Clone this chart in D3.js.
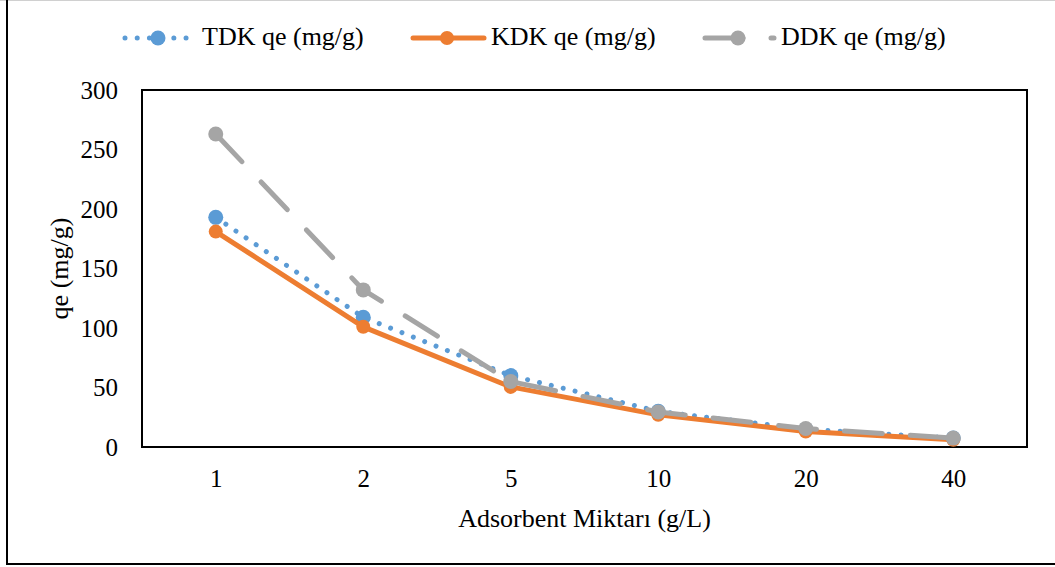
<!DOCTYPE html>
<html>
<head>
<meta charset="utf-8">
<script src="https://cdn.jsdelivr.net/npm/d3@7"></script>
<style>
  html, body { margin: 0; padding: 0; background: #fff; }
</style>
</head>
<body>
<svg id="chart" width="1055" height="567"></svg>
<script>
// Adsorbent dose categories (g/L)
const categories = ["1", "2", "5", "10", "20", "40"];
// qe values (mg/g) per adsorbent
const tdkValues = [193, 109, 60, 30, 15, 7.5];
const kdkValues = [181, 101, 50.5, 27, 13, 6];
const ddkValues = [263, 132, 55, 29.5, 15.5, 7.5];
const seriesNames = ["TDK qe (mg/g)", "KDK qe (mg/g)", "DDK qe (mg/g)"];
const yTicks = [0, 50, 100, 150, 200, 250, 300];

const FONT = "'Liberation Serif', 'Times New Roman', serif";
const svg = d3.select("#chart");
const W = 1055;
const plot = { left: 142, right: 1027, top: 90, bottom: 447 };

// outer chart frame
svg.append("line").attr("x1", 0).attr("x2", W).attr("y1", 0.5).attr("y2", 0.5)
  .attr("stroke", "#d0d0d0").attr("stroke-width", 1);
svg.append("line").attr("x1", 7).attr("x2", 7).attr("y1", 0).attr("y2", 565)
  .attr("stroke", "#000").attr("stroke-width", 2);
svg.append("line").attr("x1", 6).attr("x2", W).attr("y1", 564).attr("y2", 564)
  .attr("stroke", "#000").attr("stroke-width", 2);

const x = d3.scalePoint().domain(categories).range([plot.left, plot.right]).padding(0.5);
const y = d3.scaleLinear().domain([0, 300]).range([plot.bottom, plot.top]);

// plot area border
svg.append("rect")
  .attr("x", plot.left).attr("y", plot.top)
  .attr("width", plot.right - plot.left).attr("height", plot.bottom - plot.top)
  .attr("fill", "none").attr("stroke", "#000").attr("stroke-width", 2);

// y axis labels
const yAxis = d3.axisLeft(y).tickValues(yTicks).tickSize(0).tickPadding(24);
const gy = svg.append("g").attr("transform", `translate(${plot.left},0)`).call(yAxis);
gy.select(".domain").remove();
gy.selectAll("text").attr("font-size", 25).style("font-family", FONT).attr("fill", "#000");

// x axis labels
const xAxis = d3.axisBottom(x).tickSize(0).tickPadding(22);
const gx = svg.append("g").attr("transform", `translate(0,${plot.bottom})`).call(xAxis);
gx.select(".domain").remove();
gx.selectAll("text").attr("font-size", 25).style("font-family", FONT).attr("fill", "#000");

// axis titles
svg.append("text").attr("x", (plot.left + plot.right) / 2).attr("y", 527)
  .attr("text-anchor", "middle").attr("font-size", 26).style("font-family", FONT)
  .text("Adsorbent Miktarı (g/L)");
svg.append("text").attr("transform", `translate(68,${(plot.top + plot.bottom) / 2}) rotate(-90)`)
  .attr("text-anchor", "middle").attr("font-size", 26).style("font-family", FONT)
  .text("qe (mg/g)");

const series = [
  { name: seriesNames[0], values: tdkValues, color: "#5B9BD5", dash: "0.01 12.2", r: 7.5 },
  { name: seriesNames[1], values: kdkValues, color: "#ED7D31", dash: null, r: 7 },
  { name: seriesNames[2], values: ddkValues, color: "#A5A5A5", dash: "38 28", r: 7.5 }
];

const line = d3.line().x((d, i) => x(categories[i])).y(d => y(d));

series.forEach(s => {
  const g = svg.append("g");
  g.append("path").datum(s.values)
    .attr("d", line)
    .attr("fill", "none")
    .attr("stroke", s.color)
    .attr("stroke-width", 5)
    .attr("stroke-linecap", "round")
    .attr("stroke-linejoin", "round")
    .attr("stroke-dasharray", s.dash);
  g.selectAll("circle").data(s.values).join("circle")
    .attr("cx", (d, i) => x(categories[i]))
    .attr("cy", d => y(d))
    .attr("r", s.r)
    .attr("fill", s.color);
});

// legend
const legendItems = [
  { x1: 125, x2: 189, mx: 158, tx: 202 },
  { x1: 413, x2: 484, mx: 447, tx: 491 },
  { x1: 705, x2: 774, mx: 738, tx: 781 }
];
const legendY = 38;
series.forEach((s, i) => {
  const L = legendItems[i];
  const g = svg.append("g");
  g.append("line")
    .attr("x1", L.x1).attr("x2", L.x2).attr("y1", legendY).attr("y2", legendY)
    .attr("stroke", s.color).attr("stroke-width", 5)
    .attr("stroke-linecap", "round")
    .attr("stroke-dasharray", s.dash);
  g.append("circle").attr("cx", L.mx).attr("cy", legendY).attr("r", s.r).attr("fill", s.color);
  g.append("text").attr("x", L.tx).attr("y", 45).attr("font-size", 26).style("font-family", FONT)
    .text(s.name);
});
</script>
</body>
</html>
